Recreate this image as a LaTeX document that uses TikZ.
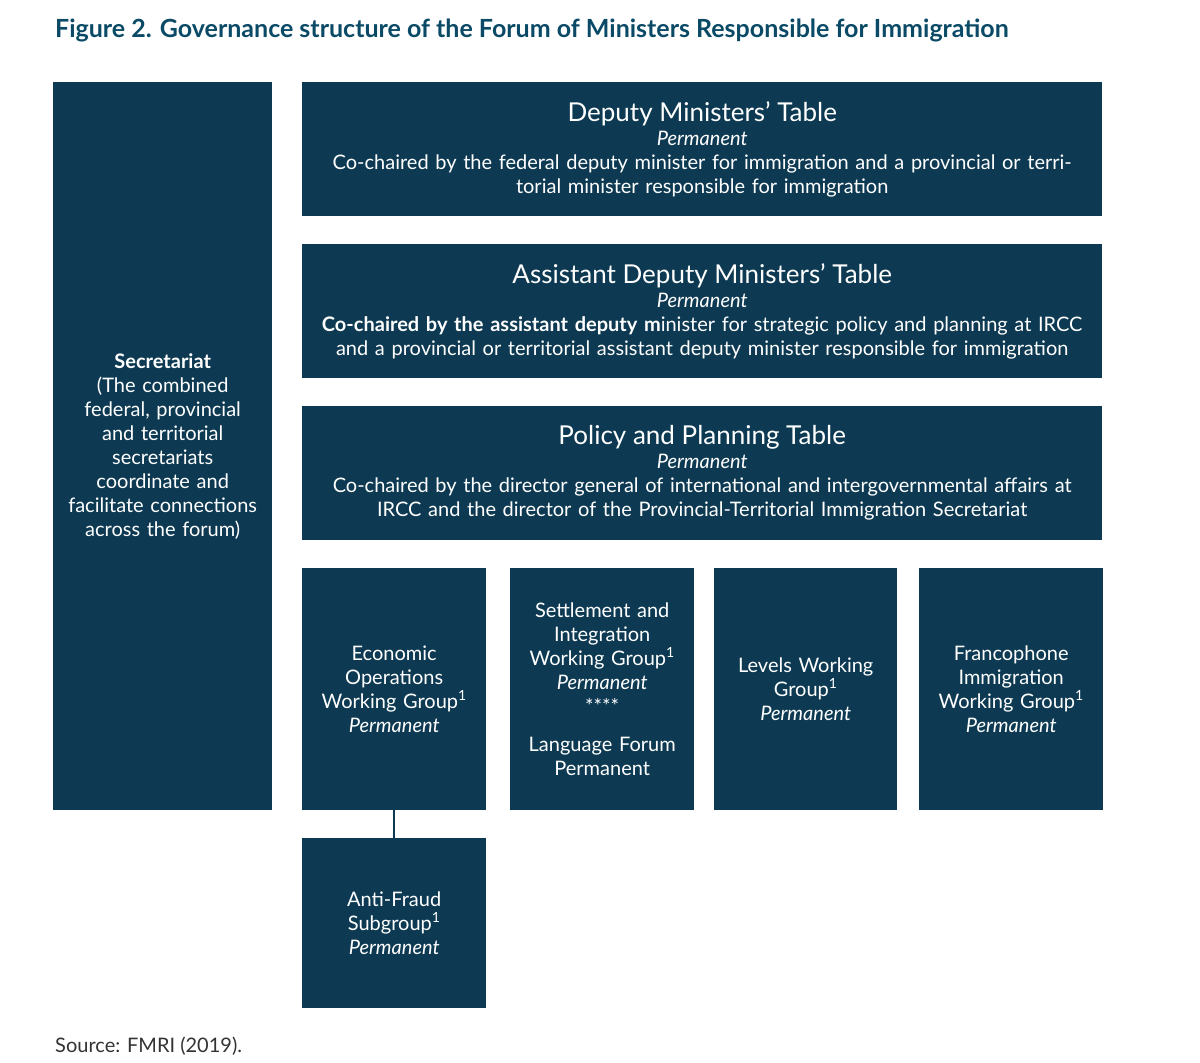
\documentclass[tikz,border=0pt]{standalone}
\usepackage{fontspec}
\setmainfont{Lato}
\definecolor{navy}{HTML}{0D3A52}
\definecolor{titleblue}{HTML}{0B4A66}
\begin{document}
\begin{tikzpicture}[x=1pt,y=-1pt,
  box/.style={fill=navy,draw=none,text=white,anchor=north west,align=center,inner sep=2pt,
    font=\fontsize{20}{24}\selectfont},
  hd/.style={font=\fontsize{26}{28}\selectfont}]
\useasboundingbox (0,0) rectangle (1200,1063);
\node[anchor=west,text=titleblue,font=\fontsize{25}{28}\selectfont\bfseries,inner sep=0] (title) at (55,30) {Figure 2. Governance structure of the Forum of Ministers Responsible for Immigration};
\node[box,minimum width=219,minimum height=728,text width=215] (sec) at (53,82)
 {\textbf{Secretariat}\\(The combined\\federal, provincial\\and territorial\\secretariats\\coordinate and\\facilitate connections\\across the forum)};
\node[box,minimum width=800,minimum height=134,text width=796] (dm) at (302,82)
 {{\fontsize{26}{28}\selectfont Deputy Ministers’ Table}\\\textit{Permanent}\\Co-chaired by the federal deputy minister for immigration and a provincial or terri-\\torial minister responsible for immigration};
\node[box,minimum width=800,minimum height=134,text width=796] (adm) at (302,244)
 {{\fontsize{26}{28}\selectfont Assistant Deputy Ministers’ Table}\\\textit{Permanent}\\\textbf{Co-chaired by the assistant deputy m}inister for strategic policy and planning at IRCC\\and a provincial or territorial assistant deputy minister responsible for immigration};
\node[box,minimum width=800,minimum height=134,text width=796] (pp) at (302,406)
 {{\fontsize{26}{28}\selectfont Policy and Planning Table}\\\textit{Permanent}\\Co-chaired by the director general of international and intergovernmental affairs at\\IRCC and the director of the Provincial-Territorial Immigration Secretariat};
\node[box,minimum width=184,minimum height=242,text width=180] (eco) at (302,568)
 {Economic\\Operations\\Working Group\textsuperscript{1}\\\textit{Permanent}};
\node[box,minimum width=184,minimum height=242,text width=180] (set) at (510,568)
 {Settlement and\\Integration\\Working Group\textsuperscript{1}\\\textit{Permanent}\\*****\\[14pt]Language Forum\\Permanent};
\node[box,minimum width=183,minimum height=242,text width=179] (lev) at (714,568)
 {Levels Working\\Group\textsuperscript{1}\\\textit{Permanent}};
\node[box,minimum width=184,minimum height=242,text width=180] (fra) at (919,568)
 {Francophone\\Immigration\\Working Group\textsuperscript{1}\\\textit{Permanent}};
\node[box,minimum width=184,minimum height=170,text width=180] (af) at (302,838)
 {Anti-Fraud\\Subgroup\textsuperscript{1}\\\textit{Permanent}};
\draw[navy,line width=2pt] (eco.south) -- (af.north);
\node[anchor=west,text=black!80,font=\fontsize{20}{24}\selectfont,inner sep=0] (src) at (55,1046) {Source: FMRI (2019).};
\end{tikzpicture}
\end{document}
